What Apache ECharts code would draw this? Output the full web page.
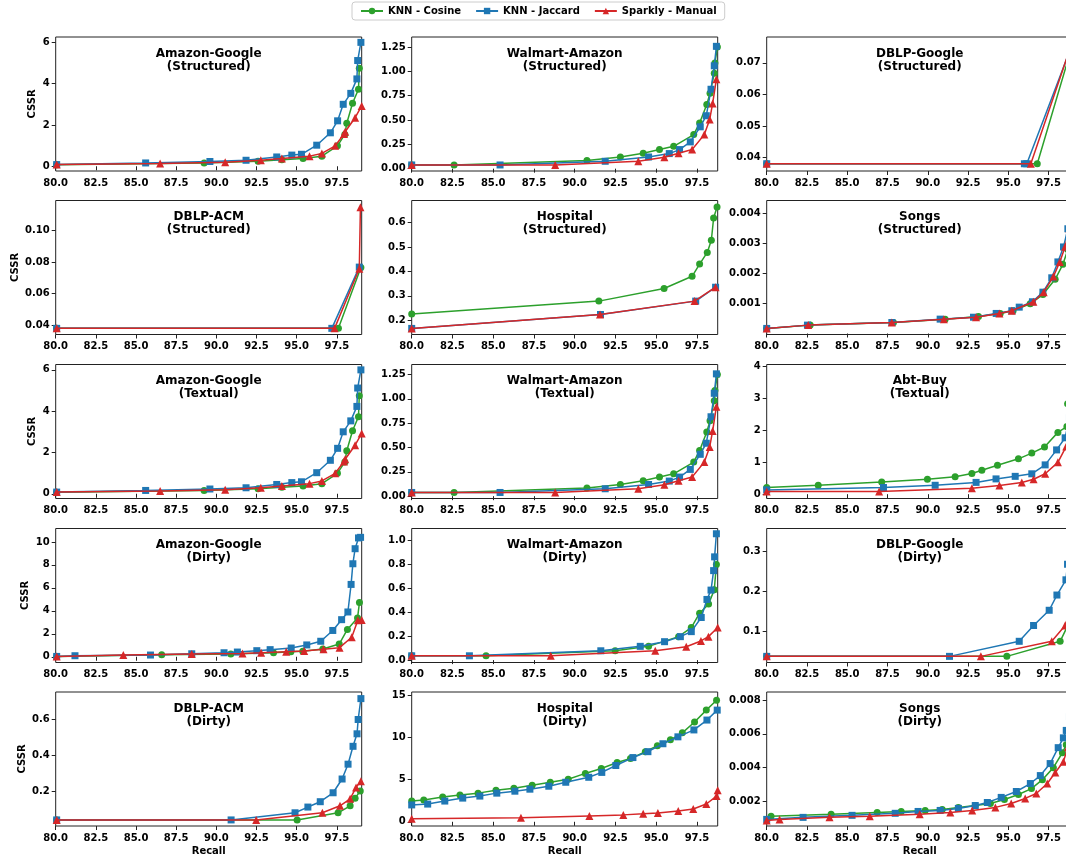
<!DOCTYPE html>
<html><head><meta charset="utf-8">
<script src="https://cdn.jsdelivr.net/npm/echarts@6/dist/echarts.min.js"></script>
<style>html,body{margin:0;padding:0;background:#fff}#c{width:1066px;height:859px}</style>
</head><body><div id="c"></div><script>
// ---------- DATA ([recall, CSSR]) ----------
const agS_cosine  = [[80.06,0.07],[89.24,0.16],[92.6,0.24],[94.08,0.32],[95.4,0.37],[96.57,0.49],[97.54,0.99],[98.0,1.54],[98.12,2.08],[98.48,3.05],[98.85,3.73],[98.9,4.75]];
const agS_jaccard = [[80.06,0.08],[85.6,0.16],[89.6,0.23],[91.85,0.29],[93.76,0.45],[94.7,0.54],[95.3,0.58],[96.25,1.02],[97.1,1.62],[97.55,2.2],[97.9,3.0],[98.37,3.53],[98.75,4.23],[98.8,5.12],[99.0,6.0]];
const agS_manual  = [[80.06,0.08],[86.5,0.13],[90.55,0.19],[92.77,0.29],[94.08,0.37],[95.8,0.49],[96.57,0.62],[97.4,0.99],[97.95,1.56],[98.02,1.67],[98.64,2.35],[99.05,2.92]];

const waS_cosine  = [[80.0,0.038],[82.6,0.038],[90.75,0.083],[92.8,0.12],[94.2,0.158],[95.2,0.196],[96.07,0.23],[97.3,0.35],[97.66,0.47],[98.1,0.66],[98.3,0.775],[98.56,0.98],[98.6,1.085],[98.75,1.25]];
const waS_jaccard = [[80.0,0.038],[85.42,0.038],[91.87,0.076],[94.53,0.12],[95.8,0.155],[96.43,0.196],[97.09,0.275],[97.7,0.43],[98.07,0.544],[98.36,0.816],[98.56,1.057],[98.69,1.257]];
const waS_manual  = [[80.0,0.038],[88.8,0.038],[93.9,0.076],[95.5,0.117],[96.37,0.158],[97.2,0.196],[97.95,0.35],[98.28,0.506],[98.46,0.67],[98.69,0.92]];

const dgS_cosine  = [[80.0,0.038],[96.8,0.038],[99.0,0.076]];
const dgS_jaccard = [[80.0,0.038],[96.0,0.038],[96.15,0.038],[99.0,0.0763]];
const dgS_manual  = [[80.0,0.038],[96.4,0.038],[98.95,0.0763]];

const daS_cosine  = [[80.06,0.038],[97.6,0.038],[99.0,0.0765]];
const daS_jaccard = [[80.06,0.038],[97.19,0.038],[98.9,0.0768]];
const daS_manual  = [[80.06,0.038],[97.36,0.038],[98.9,0.0758],[98.97,0.1147]];

const hoS_cosine  = [[80.0,0.225],[91.48,0.278],[95.48,0.33],[97.2,0.38],[97.66,0.43],[98.13,0.478],[98.38,0.528],[98.52,0.619],[98.73,0.664]];
const hoS_jaccard = [[80.0,0.166],[91.58,0.223],[97.42,0.278],[98.64,0.335]];
const hoS_manual  = [[80.0,0.166],[91.55,0.223],[97.35,0.278],[98.64,0.335]];

const soS_cosine  = [[80.0,0.00017],[82.7,0.00028],[87.87,0.000367],[91.08,0.00048],[93.15,0.00057],[94.5,0.00067],[95.3,0.00076],[96.36,0.00099],[97.15,0.0013],[97.91,0.00181],[98.39,0.00231],[98.7,0.0028],[99.0,0.0034]];
const soS_jaccard = [[80.0,0.00017],[82.53,0.00028],[87.77,0.000367],[90.77,0.00048],[92.84,0.000544],[94.25,0.00067],[95.22,0.00076],[95.68,0.00088],[96.5,0.00106],[97.15,0.00138],[97.7,0.00186],[98.08,0.00239],[98.43,0.00289],[98.7,0.0035],[99.0,0.00424]];
const soS_manual  = [[80.0,0.00017],[82.58,0.00028],[87.77,0.000367],[91.0,0.00048],[93.0,0.000544],[94.45,0.00067],[95.22,0.00076],[96.56,0.00106],[97.2,0.00138],[97.8,0.0019],[98.2,0.00239],[98.53,0.0029],[98.8,0.0035],[99.0,0.004]];

const agT_cosine  = agS_cosine.slice();
const agT_jaccard = agS_jaccard.slice();
const agT_manual  = agS_manual.slice();

const waT_cosine  = waS_cosine.slice();
const waT_jaccard = waS_jaccard.slice();
const waT_manual  = waS_manual.slice();

const abT_cosine  = [[80.0,0.21],[83.2,0.28],[87.14,0.38],[89.98,0.47],[91.7,0.55],[92.74,0.65],[93.36,0.75],[94.33,0.91],[95.63,1.11],[96.46,1.29],[97.25,1.48],[98.08,1.94],[98.64,2.12],[98.68,2.84],[98.95,3.88]];
const abT_jaccard = [[80.0,0.135],[87.25,0.21],[90.46,0.28],[93.0,0.37],[94.24,0.48],[95.43,0.56],[96.46,0.64],[97.29,0.92],[98.0,1.39],[98.53,1.77],[98.8,2.4],[99.0,3.0]];
const abT_manual  = [[80.0,0.083],[86.98,0.083],[92.74,0.19],[94.45,0.27],[95.84,0.37],[96.57,0.47],[97.29,0.64],[98.08,1.0],[98.6,1.5],[98.85,2.1],[99.0,2.6]];

const agD_cosine  = [[80.06,0.03],[86.6,0.18],[90.9,0.23],[93.56,0.35],[94.64,0.44],[95.38,0.47],[96.63,0.67],[97.65,1.11],[98.16,2.38],[98.79,3.37],[98.91,4.72]];
const agD_jaccard = [[80.06,0.03],[81.2,0.09],[85.9,0.15],[88.47,0.26],[90.48,0.35],[91.31,0.41],[92.52,0.53],[93.35,0.62],[94.66,0.76],[95.63,1.03],[96.5,1.35],[97.25,2.29],[97.8,3.23],[98.19,3.9],[98.39,6.3],[98.5,8.1],[98.64,9.41],[98.85,10.35],[98.98,10.4]];
const agD_manual  = [[80.06,0.03],[84.21,0.15],[88.47,0.23],[91.63,0.29],[92.79,0.35],[94.35,0.44],[95.47,0.5],[96.67,0.65],[97.67,0.79],[98.43,1.7],[98.81,3.17],[99.05,3.2]];

const waD_cosine  = [[80.0,0.036],[84.56,0.036],[92.48,0.078],[94.53,0.115],[96.37,0.196],[97.15,0.272],[97.66,0.392],[98.21,0.468],[98.56,0.588],[98.69,0.80]];
const waD_jaccard = [[80.0,0.036],[83.54,0.036],[91.6,0.078],[94.02,0.115],[95.51,0.154],[96.48,0.196],[97.15,0.238],[97.76,0.356],[98.11,0.507],[98.36,0.585],[98.52,0.748],[98.58,0.863],[98.69,1.056]];
const waD_manual  = [[80.0,0.036],[88.53,0.036],[94.94,0.078],[96.84,0.112],[97.74,0.16],[98.2,0.196],[98.77,0.272]];

const dgD_cosine  = [[80.0,0.038],[94.91,0.038],[98.22,0.0756],[98.7,0.115],[99.0,0.15]];
const dgD_jaccard = [[80.0,0.038],[91.35,0.038],[95.68,0.0756],[96.57,0.115],[97.54,0.153],[98.02,0.191],[98.58,0.229],[98.68,0.268],[98.95,0.342]];
const dgD_manual  = [[80.0,0.038],[93.3,0.038],[97.7,0.0756],[98.53,0.115],[98.9,0.16]];

const daD_cosine  = [[80.06,0.038],[95.03,0.038],[97.58,0.078],[98.33,0.117],[98.64,0.16],[98.96,0.2]];
const daD_jaccard = [[80.06,0.038],[90.92,0.038],[94.9,0.078],[95.7,0.11],[96.47,0.14],[97.27,0.19],[97.83,0.267],[98.2,0.35],[98.51,0.45],[98.76,0.52],[98.83,0.6],[99.0,0.717]];
const daD_manual  = [[80.06,0.038],[92.48,0.038],[96.6,0.078],[97.7,0.117],[98.33,0.156],[98.7,0.22],[99.0,0.255]];

const hoD_cosine  = [[80.0,2.46],[80.74,2.58],[81.9,2.93],[82.96,3.17],[84.07,3.4],[85.17,3.75],[86.27,3.99],[87.39,4.34],[88.5,4.69],[89.6,5.04],[90.65,5.74],[91.63,6.33],[92.6,7.03],[93.42,7.5],[94.33,8.32],[95.07,9.03],[95.87,9.73],[96.6,10.55],[97.35,11.84],[98.07,13.25],[98.7,14.42]];
const hoD_jaccard = [[80.0,2.0],[80.98,2.1],[82.03,2.46],[83.13,2.81],[84.18,3.05],[85.22,3.4],[86.33,3.63],[87.25,3.87],[88.41,4.22],[89.45,4.69],[90.86,5.28],[91.66,5.86],[92.52,6.68],[93.57,7.62],[94.49,8.32],[95.41,9.26],[96.33,10.08],[97.31,10.9],[98.11,12.07],[98.74,13.25]];
const hoD_manual  = [[80.0,0.35],[86.7,0.47],[90.9,0.7],[92.98,0.82],[94.2,0.94],[95.1,1.05],[96.35,1.29],[97.27,1.52],[98.07,2.11],[98.7,3.05],[98.77,3.75]];

const soD_cosine  = [[80.27,0.00112],[84.0,0.00124],[86.86,0.00135],[88.35,0.00141],[89.84,0.00147],[90.9,0.00153],[91.9,0.00165],[92.95,0.00176],[93.89,0.00188],[94.76,0.00212],[95.63,0.00241],[96.44,0.00276],[97.12,0.00329],[97.8,0.004],[98.36,0.00488],[98.6,0.00535],[98.9,0.0065]];
const soD_jaccard = [[80.0,0.00094],[82.26,0.00106],[85.3,0.00118],[87.98,0.0013],[89.4,0.00141],[90.77,0.00147],[91.9,0.00159],[92.95,0.00176],[93.7,0.00194],[94.56,0.00224],[95.5,0.00259],[96.37,0.00306],[96.99,0.00353],[97.6,0.00424],[98.1,0.00518],[98.42,0.00576],[98.6,0.0062],[98.8,0.007],[99.0,0.0081]];
const soD_manual  = [[80.0,0.00088],[80.8,0.00094],[83.9,0.00106],[86.4,0.00112],[89.5,0.00124],[91.4,0.00135],[92.76,0.00147],[94.2,0.00165],[95.18,0.00188],[96.05,0.00218],[96.74,0.00247],[97.42,0.00306],[97.92,0.00371],[98.42,0.00435],[98.7,0.0052],[99.0,0.0062]];

// ---------- TICK LABELS ----------
const xTicks = ['80.0','82.5','85.0','87.5','90.0','92.5','95.0','97.5'];
const yT_ag  = ['0','2','4','6'];
const yT_wa  = ['0.00','0.25','0.50','0.75','1.00','1.25'];
const yT_dgS = ['0.04','0.05','0.06','0.07'];
const yT_daS = ['0.04','0.06','0.08','0.10'];
const yT_hoS = ['0.2','0.3','0.4','0.5','0.6'];
const yT_soS = ['0.001','0.002','0.003','0.004'];
const yT_ab  = ['0','1','2','3','4'];
const yT_agD = ['0','2','4','6','8','10'];
const yT_waD = ['0.0','0.2','0.4','0.6','0.8','1.0'];
const yT_dgD = ['0.1','0.2','0.3'];
const yT_daD = ['0.2','0.4','0.6'];
const yT_hoD = ['0','5','10','15'];
const yT_soD = ['0.002','0.004','0.006','0.008'];

const seriesNames = ['KNN - Cosine','KNN - Jaccard','Sparkly - Manual'];
const colors = ['#2ca02c','#1f77b4','#d62728'];
const symbols = ['circle','rect','triangle'];
const symbolSizes = [7,7,8];

const panels = [
  {t:'Amazon-Google', s:'(Structured)', d:[agS_cosine,agS_jaccard,agS_manual], yl:[-0.23,6.26], yt:yT_ag},
  {t:'Walmart-Amazon', s:'(Structured)', d:[waS_cosine,waS_jaccard,waS_manual], yl:[-0.024,1.353], yt:yT_wa},
  {t:'DBLP-Google', s:'(Structured)', d:[dgS_cosine,dgS_jaccard,dgS_manual], yl:[0.0357,0.0782], yt:yT_dgS},
  {t:'DBLP-ACM', s:'(Structured)', d:[daS_cosine,daS_jaccard,daS_manual], yl:[0.0341,0.119], yt:yT_daS},
  {t:'Hospital', s:'(Structured)', d:[hoS_cosine,hoS_jaccard,hoS_manual], yl:[0.141,0.691], yt:yT_hoS},
  {t:'Songs', s:'(Structured)', d:[soS_cosine,soS_jaccard,soS_manual], yl:[-0.000033,0.00444], yt:yT_soS},
  {t:'Amazon-Google', s:'(Textual)', d:[agT_cosine,agT_jaccard,agT_manual], yl:[-0.23,6.26], yt:yT_ag},
  {t:'Walmart-Amazon', s:'(Textual)', d:[waT_cosine,waT_jaccard,waT_manual], yl:[-0.024,1.353], yt:yT_wa},
  {t:'Abt-Buy', s:'(Textual)', d:[abT_cosine,abT_jaccard,abT_manual], yl:[-0.135,4.07], yt:yT_ab},
  {t:'Amazon-Google', s:'(Dirty)', d:[agD_cosine,agD_jaccard,agD_manual], yl:[-0.5,11.17], yt:yT_agD},
  {t:'Walmart-Amazon', s:'(Dirty)', d:[waD_cosine,waD_jaccard,waD_manual], yl:[-0.02,1.1], yt:yT_waD},
  {t:'DBLP-Google', s:'(Dirty)', d:[dgD_cosine,dgD_jaccard,dgD_manual], yl:[0.0227,0.357], yt:yT_dgD},
  {t:'DBLP-ACM', s:'(Dirty)', d:[daD_cosine,daD_jaccard,daD_manual], yl:[0.004,0.754], yt:yT_daD},
  {t:'Hospital', s:'(Dirty)', d:[hoD_cosine,hoD_jaccard,hoD_manual], yl:[-0.5,15.4], yt:yT_hoD},
  {t:'Songs', s:'(Dirty)', d:[soD_cosine,soD_jaccard,soD_manual], yl:[0.00055,0.00847], yt:yT_soD}
];

// ---------- LAYOUT ----------
const colLeft = [55.7, 411.7, 766.7];
const colWidth = 306;
const colXMax = [99.05, 98.77, 99.0];
const rowTop = [37, 200.5, 364.5, 528.5, 692];
const rowHeight = 134;
const FONT = 'DejaVu Sans';

const measureCtx = document.createElement('canvas').getContext('2d');
measureCtx.font = 'bold 10px "DejaVu Sans"';

const option = {
  animation: false,
  backgroundColor: '#fff',
  legend: {
    data: seriesNames, top: 2, left: 352,
    borderColor: '#ccc', borderWidth: 1, borderRadius: 3, padding: [4, 8],
    itemWidth: 22, itemHeight: 8, itemGap: 14,
    textStyle: {fontFamily: FONT, fontWeight: 'bold', fontSize: 10, color: '#000'}
  },
  title: [], grid: [], xAxis: [], yAxis: [], series: []
};

panels.forEach((p, i) => {
  const r = Math.floor(i / 3), c = i % 3;
  const left = colLeft[c], top = rowTop[r];
  option.grid.push({left: left, top: top, width: colWidth, height: rowHeight,
    show: true, borderColor: '#222', borderWidth: 1, backgroundColor: 'transparent',
    containLabel: false, outerBoundsMode: 'none'});
  option.title.push({text: p.t + '\n' + p.s, left: left + colWidth / 2, top: top + 10, textAlign: 'center', padding: 0,
    textStyle: {fontFamily: FONT, fontWeight: 'bold', fontSize: 12, lineHeight: 13, color: '#000'}});
  const xv = xTicks.map(Number);
  option.xAxis.push({
    type: 'value', gridIndex: i, min: 80, max: colXMax[c],
    name: r === 4 ? 'Recall' : '', nameLocation: 'middle', nameGap: 20,
    nameTextStyle: {fontFamily: FONT, fontWeight: 'bold', fontSize: 10, color: '#000'},
    axisLine: {show: false}, splitLine: {show: false},
    axisTick: {show: true, customValues: xv, length: 4, lineStyle: {color: '#222'}},
    axisLabel: {customValues: xv, margin: 7, fontFamily: FONT, fontWeight: 'bold', fontSize: 10, color: '#000',
      formatter: v => xTicks[xv.findIndex(t => Math.abs(t - v) < 1e-9)] || ''}
  });
  const yv = p.yt.map(Number);
  const maxW = Math.max(...p.yt.map(s => measureCtx.measureText(s).width));
  option.yAxis.push({
    type: 'value', gridIndex: i, min: p.yl[0], max: p.yl[1],
    name: c === 0 ? 'CSSR' : '', nameLocation: 'middle', nameGap: maxW + 11, nameRotate: 90,
    nameTextStyle: {fontFamily: FONT, fontWeight: 'bold', fontSize: 10, color: '#000'},
    axisLine: {show: false}, splitLine: {show: false},
    axisTick: {show: true, customValues: yv, length: 4, lineStyle: {color: '#222'}},
    axisLabel: {customValues: yv, margin: 6, fontFamily: FONT, fontWeight: 'bold', fontSize: 10, color: '#000',
      formatter: v => p.yt[yv.findIndex(t => Math.abs(t - v) < 1e-12)] || ''}
  });
  p.d.forEach((arr, k) => {
    option.series.push({
      name: seriesNames[k], type: 'line', xAxisIndex: i, yAxisIndex: i, data: arr,
      symbol: symbols[k], symbolSize: symbolSizes[k], showAllSymbol: true, clip: true,
      itemStyle: {color: colors[k]}, lineStyle: {color: colors[k], width: 1.5},
      emphasis: {disabled: true}, z: 2 + k
    });
  });
});

const chart = echarts.init(document.getElementById('c'), null, {renderer: 'canvas'});
chart.setOption(option);
</script></body></html>
